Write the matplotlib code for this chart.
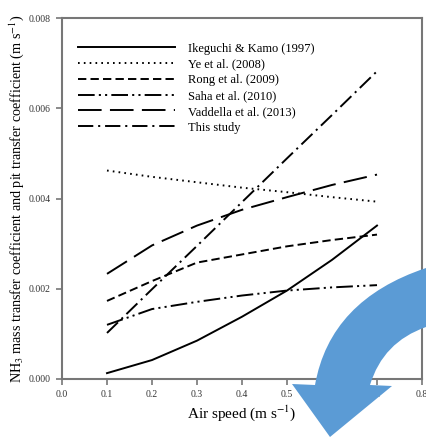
import matplotlib
matplotlib.use('Agg')
import matplotlib.pyplot as plt
from matplotlib.path import Path
from matplotlib.patches import PathPatch
from matplotlib.transforms import Affine2D

plt.rcParams['font.family'] = ['Liberation Serif', 'DejaVu Serif']
plt.rcParams['mathtext.fontset'] = 'stix'
plt.rcParams['lines.scale_dashes'] = False

# data
speed = [0.1, 0.2, 0.3, 0.4, 0.5, 0.6, 0.7]
ikeguchi = [0.00013, 0.00042, 0.00085, 0.00138, 0.00196, 0.00264, 0.0034]
ye = [0.00462, 0.00448, 0.00436, 0.00424, 0.00414, 0.00403, 0.00393]
rong = [0.00173, 0.00217, 0.00258, 0.00276, 0.00294, 0.00308, 0.0032]
saha = [0.0012, 0.00155, 0.00171, 0.00185, 0.00196, 0.00203, 0.00208]
vaddella = [0.00233, 0.00296, 0.0034, 0.00375, 0.00403, 0.0043, 0.00453]
this_study = [0.00102, 0.00199, 0.00295, 0.00392, 0.00489, 0.00585, 0.00682]

labels = ['Ikeguchi & Kamo (1997)', 'Ye et al. (2008)', 'Rong et al. (2009)',
          'Saha et al. (2010)', 'Vaddella et al. (2013)', 'This study']
series = [ikeguchi, ye, rong, saha, vaddella, this_study]
dashes = [(None, None), (1.2, 3.0), (6, 3), (12, 3, 1.5, 3, 1.5, 3),
          (17, 6), (11, 3.5, 1.5, 3.5)]

fig = plt.figure(figsize=(4.26, 4.37), dpi=100)
ax = fig.add_axes([62/426, 1-379/437, 360/426, 361/437])

for y, lab, d in zip(series, labels, dashes):
    if d[0] is None:
        ax.plot(speed, y, color='black', lw=1.4, label=lab)
    else:
        ax.plot(speed, y, color='black', lw=1.4, dashes=d, label=lab)

ax.set_xlim(0, 0.8)
ax.set_ylim(0, 0.008)
ax.set_xticks([0.0, 0.1, 0.2, 0.3, 0.4, 0.5, 0.6, 0.7, 0.8])
ax.set_xticklabels(['0.0', '0.1', '0.2', '0.3', '0.4', '0.5', '0.6', '0.7', '0.8'])
ax.set_yticks([0, 0.002, 0.004, 0.006, 0.008])
ax.set_yticklabels(['0.000', '0.002', '0.004', '0.006', '0.008'])
for s in ax.spines.values():
    s.set_color('#777777')
    s.set_linewidth(1.5)
ax.tick_params(direction='out', length=4, width=1.2, color='#777777',
               labelsize=7, labelcolor='#333333', pad=4)

ax.set_xlabel('Air speed (m s$^{-1}$)', fontsize=11, labelpad=3)
ax.set_ylabel('NH$_3$ mass transfer coefficient and pit transfer coefficient (m s$^{-1}$)',
              fontsize=10.2, labelpad=2)

leg = ax.legend(loc='upper left', bbox_to_anchor=(0.03, 0.945), frameon=False,
                fontsize=9, handlelength=7.8, handletextpad=1.0,
                labelspacing=0.3, borderaxespad=0)

# blue curved arrow drawn over the chart (pixel coordinates of the image)
px = Affine2D().scale(1/426, -1/437).translate(0, 1) + fig.transFigure
verts = [(426, 268), (330, 300), (315, 385), (292, 384), (330, 437),
         (392, 386), (370, 385), (383, 342), (426, 327), (426, 268)]
codes = [Path.MOVETO, Path.CURVE3, Path.CURVE3, Path.LINETO, Path.LINETO,
         Path.LINETO, Path.LINETO, Path.CURVE3, Path.CURVE3, Path.CLOSEPOLY]
arrow = PathPatch(Path(verts, codes), facecolor='#5b9bd5', edgecolor='none',
                  transform=px, clip_on=False, zorder=10)
fig.patches.append(arrow)

fig.savefig('out.png', dpi=100)
